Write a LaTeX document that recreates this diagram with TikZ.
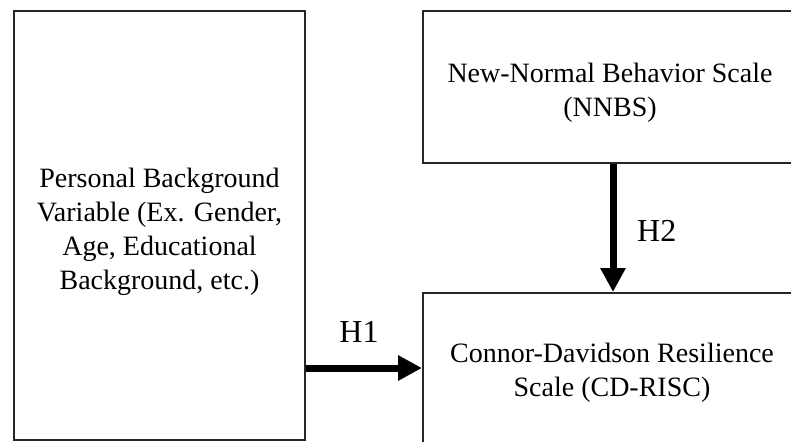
\documentclass[tikz,border=0pt]{standalone}
\usepackage{fontspec}
\setmainfont{Liberation Serif}
\usetikzlibrary{arrows.meta}
\begin{document}
\begin{tikzpicture}[x=1pt,y=-1pt,
  box/.style={draw=black!85,line width=2pt,rectangle,inner sep=0pt},
  txt/.style={align=center,inner sep=0pt,font=\fontsize{28}{34}\selectfont},
  hlab/.style={inner sep=0pt,anchor=base,font=\fontsize{32}{34}\selectfont},
  arr/.style={line width=7pt,-{Triangle[length=24pt,width=24pt]}}]
\useasboundingbox (0,0) rectangle (791,441);
\clip (0,0) rectangle (791,441);
\node[box,minimum width=291pt,minimum height=429pt] (L) at (159.5,225.5) {};
\node[box,minimum width=377pt,minimum height=152pt] (T) at (611.5,87) {};
\node[box,minimum width=377pt,minimum height=157pt] (B) at (611.5,371.5) {};
\node[txt] (Lt) at (159.5,231.5) {Personal Background\\Variable (Ex. Gender,\\Age, Educational\\Background, etc.)};
\node[txt] (Tt) at (610,92.5) {New-Normal Behavior Scale\\(NNBS)};
\node[txt] (Bt) at (612,372.5) {Connor-Davidson Resilience\\Scale (CD-RISC)};
\coordinate (h1) at (0,368);
\coordinate (h2) at (613,0);
\draw[arr] (L.east |- h1) -- (B.west |- h1);
\draw[arr] (T.south -| h2) -- (B.north -| h2);
\node[hlab] (H1) at (359,342) {H1};
\node[hlab,anchor=base west] (H2) at (637,241) {H2};
\end{tikzpicture}
\end{document}
